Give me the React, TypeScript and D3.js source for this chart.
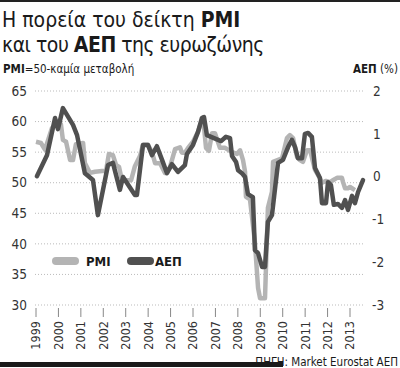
import React, { useEffect, useRef } from 'react';
import * as d3 from 'd3';

// PMI (monthly) as [year, value] corners
const pmiYears = [
  1999.0, 1999.22, 1999.4, 1999.71, 1999.94, 2000.11, 2000.2, 2000.34, 2000.52, 2000.65,
  2000.78, 2001.1, 2001.18, 2001.41, 2001.63, 2001.94, 2002.12, 2002.25, 2002.43, 2002.57,
  2002.7, 2002.83, 2003.01, 2003.24, 2003.41, 2003.64, 2003.77, 2003.99, 2004.17, 2004.31,
  2004.53, 2004.75, 2004.97, 2005.2, 2005.42, 2005.51, 2005.64, 2005.78, 2006.0, 2006.22,
  2006.45, 2006.58, 2006.71, 2006.85, 2006.98, 2007.2, 2007.43, 2007.74, 2007.96, 2008.1,
  2008.23, 2008.32, 2008.36, 2008.54, 2008.76, 2008.9, 2008.99, 2009.21, 2009.34, 2009.52,
  2009.57, 2009.97, 2010.19, 2010.32, 2010.46, 2010.64, 2010.77, 2010.9, 2011.08, 2011.22,
  2011.44, 2011.57, 2011.75, 2011.93, 2012.11, 2012.24, 2012.42, 2012.64, 2012.69, 2012.78,
  2012.91, 2013.0, 2013.09, 2013.22,
];
const pmiValues = [
  56.7, 56.5, 55.4, 58.9, 59.9, 59.6, 57.0, 56.7, 53.7, 53.7,
  56.3, 56.5, 53.2, 51.6, 51.8, 51.9, 51.9, 54.7, 54.5, 52.9,
  52.6, 50.4, 50.4, 50.4, 52.7, 54.4, 56.2, 56.2, 55.0, 53.2,
  53.2, 51.6, 52.5, 55.5, 55.8, 54.9, 54.9, 55.7, 56.7, 58.3,
  60.7, 55.7, 55.2, 58.1, 58.1, 55.7, 55.7, 55.0, 54.7, 55.3,
  53.7, 51.8, 47.7, 47.3, 40.3, 32.8, 31.1, 31.1, 45.9, 48.5,
  53.4, 54.0, 57.3, 57.8, 57.3, 54.2, 53.7, 53.4, 55.3, 55.3,
  52.1, 51.3, 50.0, 50.3, 50.1, 50.4, 50.8, 50.8, 50.1, 49.1,
  49.1, 49.3, 49.1, 48.8,
];

// ΑΕΠ (% change), same approach
const gdpYears = [
  1999.04, 1999.49, 1999.85, 1999.98, 2000.2, 2000.65, 2000.83, 2001.18, 2001.54, 2001.76,
  2002.21, 2002.43, 2002.74, 2002.88, 2003.41, 2003.5, 2003.77, 2003.99, 2004.17, 2004.39,
  2004.62, 2004.84, 2005.06, 2005.33, 2005.64, 2005.73, 2006.0, 2006.22, 2006.4, 2006.49,
  2006.62, 2007.25, 2007.47, 2007.65, 2007.74, 2007.92, 2008.01, 2008.18, 2008.32, 2008.45,
  2008.67, 2008.76, 2008.9, 2009.08, 2009.21, 2009.34, 2009.52, 2009.79, 2010.01, 2010.24,
  2010.41, 2010.55, 2010.68, 2010.86, 2010.99, 2011.13, 2011.3, 2011.44, 2011.66, 2011.75,
  2011.93, 2012.02, 2012.15, 2012.28, 2012.46, 2012.64, 2012.78, 2012.91, 2013.09, 2013.22,
  2013.36, 2013.58,
];
const gdpValues = [
  0.01, 0.5, 1.37, 1.11, 1.6, 1.21, 0.97, 0.08, -0.08, -0.9,
  0.27, 0.32, -0.31, -0.01, -0.43, -0.43, 0.74, 0.74, 0.5, 0.71,
  0.39, 0.08, 0.29, 0.11, 0.27, 0.53, 0.74, 1.04, 1.37, 1.39,
  0.97, 0.83, 0.93, 0.9, 0.48, 0.34, 0.15, 0.08, -0.01, -0.41,
  -0.48, -1.72, -1.79, -2.11, -2.11, -1.06, -0.9, 0.32, 0.39, 0.69,
  0.86, 0.69, 0.43, 0.43, 1.0, 1.02, 0.93, 0.2, -0.03, -0.62,
  -0.62, -0.13, -0.2, -0.66, -0.64, -0.73, -0.55, -0.78, -0.45, -0.62,
  -0.36, -0.08,
];

const yearTicks = d3.range(1999, 2014);
const pmiTicks = [30, 35, 40, 45, 50, 55, 60, 65];
const gdpTicks = [2, 1, 0, -1, -2, -3];

const FONT = "'Liberation Sans Narrow', 'DejaVu Sans Condensed', 'Roboto Condensed', sans-serif";
const PMI_COLOR = '#b4b4b4';
const GDP_COLOR = '#505050';

const App = () => {
  const ref = useRef<HTMLDivElement>(null);

  useEffect(() => {
    const width = 400;
    const height = 368;

    const root = d3.select(ref.current);
    root.selectAll('*').remove();

    const svg = root
      .append('svg')
      .attr('width', width)
      .attr('height', height)
      .style('position', 'absolute')
      .style('left', '0px')
      .style('top', '0px')
      .style('font-family', FONT)
      .style('background', '#fff');

    const x = d3.scaleLinear().domain([1999, 2013]).range([36, 350]);
    const yLeft = d3.scaleLinear().domain([30, 65]).range([305, 91]);
    const yRight = d3.scaleLinear().domain([-3, 2]).range([305, 91]);

    // top rule
    svg.append('rect').attr('x', 0).attr('y', 0).attr('width', width).attr('height', 2).attr('fill', '#222');

    // title
    const t1 = svg.append('text').attr('x', 2).attr('y', 27).attr('font-size', 21).attr('fill', '#1a1a1a');
    t1.append('tspan').text('Η πορεία του δείκτη ');
    t1.append('tspan').attr('font-weight', 'bold').text('PMI');
    const t2 = svg.append('text').attr('x', 2).attr('y', 52).attr('font-size', 21)
      .attr('letter-spacing', -0.5).attr('fill', '#1a1a1a');
    t2.append('tspan').text('και του ');
    t2.append('tspan').attr('font-weight', 'bold').text('ΑΕΠ');
    t2.append('tspan').text(' της ευρωζώνης');

    // axis captions
    const sub = svg.append('text').attr('x', 3).attr('y', 73).attr('font-size', 11.5).attr('fill', '#1a1a1a');
    sub.append('tspan').attr('font-weight', 'bold').text('PMI');
    sub.append('tspan').text('=50-καμία μεταβολή');
    const subR = svg.append('text').attr('x', 398).attr('y', 73).attr('font-size', 11.5)
      .attr('text-anchor', 'end').attr('fill', '#1a1a1a');
    subR.append('tspan').attr('font-weight', 'bold').text('ΑΕΠ');
    subR.append('tspan').text(' (%)');

    // gridlines
    svg.append('g')
      .selectAll('line')
      .data(pmiTicks)
      .enter()
      .append('line')
      .attr('x1', 35)
      .attr('x2', 365)
      .attr('y1', d => yLeft(d))
      .attr('y2', d => yLeft(d))
      .attr('stroke', '#aaa')
      .attr('stroke-width', 0.8)
      .attr('stroke-dasharray', '1,2');

    // left axis labels
    svg.append('g')
      .selectAll('text')
      .data(pmiTicks)
      .enter()
      .append('text')
      .attr('x', 27)
      .attr('y', d => yLeft(d))
      .attr('dy', '0.35em')
      .attr('text-anchor', 'end')
      .attr('font-size', 13.5)
      .attr('fill', '#333')
      .text(d => d);

    // right axis labels
    svg.append('g')
      .selectAll('text')
      .data(gdpTicks)
      .enter()
      .append('text')
      .attr('x', d => (d < 0 ? 372 : 373))
      .attr('y', d => yRight(d))
      .attr('dy', '0.35em')
      .attr('font-size', 13.5)
      .attr('fill', '#333')
      .text(d => d);

    // x ticks and labels
    const xg = svg.append('g');
    xg.selectAll('line')
      .data(yearTicks)
      .enter()
      .append('line')
      .attr('x1', d => x(d))
      .attr('x2', d => x(d))
      .attr('y1', 308)
      .attr('y2', 317)
      .attr('stroke', '#888')
      .attr('stroke-width', 1);
    xg.selectAll('text')
      .data(yearTicks)
      .enter()
      .append('text')
      .attr('transform', d => `translate(${x(d)},321) rotate(-90)`)
      .attr('dy', '0.35em')
      .attr('text-anchor', 'end')
      .attr('font-size', 12.5)
      .attr('fill', '#333')
      .text(d => d);

    // lines
    const pmiData = pmiYears.map((yr, i) => [yr, pmiValues[i]] as [number, number]);
    const gdpData = gdpYears.map((yr, i) => [yr, gdpValues[i]] as [number, number]);

    const pmiLine = d3.line<[number, number]>().x(d => x(d[0])).y(d => yLeft(d[1]));
    const gdpLine = d3.line<[number, number]>().x(d => x(d[0])).y(d => yRight(d[1]));

    svg.append('path')
      .datum(pmiData)
      .attr('fill', 'none')
      .attr('stroke', PMI_COLOR)
      .attr('stroke-width', 4.5)
      .attr('stroke-linejoin', 'round')
      .attr('d', pmiLine);

    svg.append('path')
      .datum(gdpData)
      .attr('fill', 'none')
      .attr('stroke', GDP_COLOR)
      .attr('stroke-width', 4.5)
      .attr('stroke-linejoin', 'round')
      .attr('stroke-linecap', 'round')
      .attr('d', gdpLine);

    // legend
    const legend = [
      { label: 'PMI', color: PMI_COLOR, x: 52 },
      { label: 'ΑΕΠ', color: GDP_COLOR, x: 127 },
    ];
    const lg = svg.append('g').selectAll('g').data(legend).enter().append('g')
      .attr('transform', d => `translate(${d.x},257)`);
    lg.append('rect').attr('width', 27).attr('height', 8).attr('rx', 4).attr('fill', d => d.color);
    lg.append('text')
      .attr('x', d => (d.label === 'PMI' ? 34 : 28))
      .attr('y', 9)
      .attr('font-size', 13)
      .attr('font-weight', 'bold')
      .attr('fill', '#1a1a1a')
      .text(d => d.label);

    // bottom rule and source
    svg.append('rect').attr('x', 0).attr('y', 362).attr('width', 283).attr('height', 5).attr('fill', '#1a1a1a');
    svg.append('text')
      .attr('x', 398)
      .attr('y', 366)
      .attr('text-anchor', 'end')
      .attr('font-size', 11.5)
      .attr('fill', '#1a1a1a')
      .text('ΠΗΓΗ: Market Eurostat ΑΕΠ');
  }, []);

  return <div ref={ref}></div>;
};

export default App;
